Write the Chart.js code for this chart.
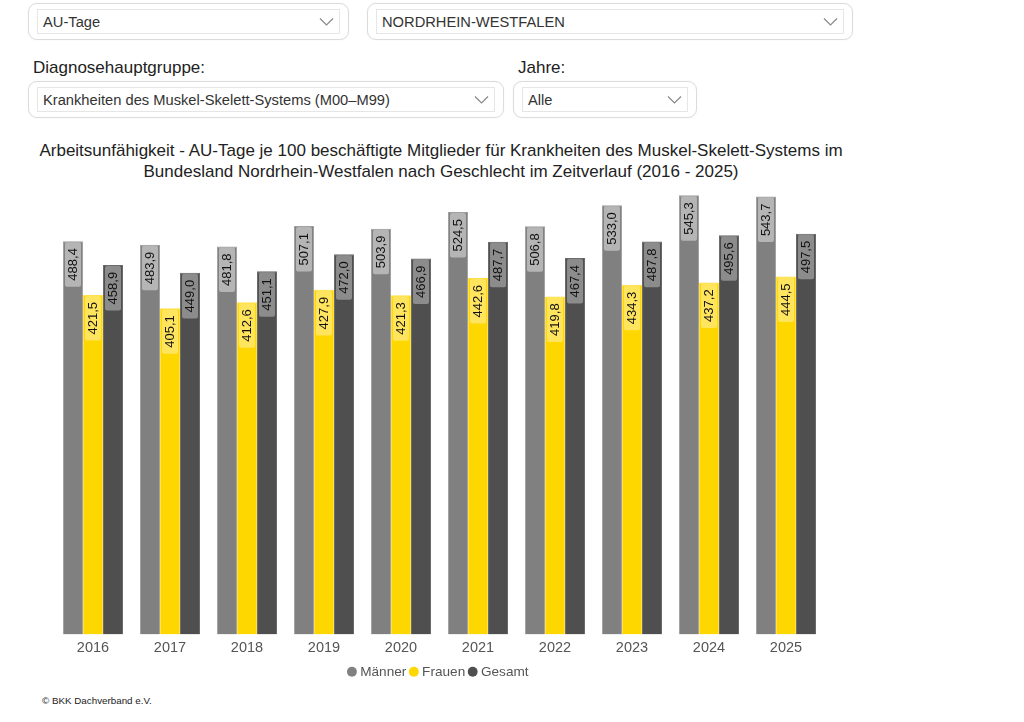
<!DOCTYPE html>
<html lang="de">
<head>
<meta charset="utf-8">
<script src="https://cdn.jsdelivr.net/npm/chart.js@4.4.1/dist/chart.umd.min.js"></script>
<style>
  html, body { margin: 0; padding: 0; background: #fff; }
  body { width: 1024px; height: 722px; position: relative; overflow: hidden;
         font-family: "Liberation Sans", Arial, sans-serif; color: #222; }
  .outer { position: absolute; border: 1px solid #dcdcdc; border-radius: 9px;
           box-shadow: 0 0 2px rgba(0,0,0,0.06); box-sizing: border-box; background: #fff; }
  .inner { position: absolute; left: 8px; right: 8px; top: 5px; bottom: 5px;
           border: 1px solid #e6e6e6; box-sizing: border-box; }
  .inner span { position: absolute; left: 5px; top: 50%; transform: translateY(-50%);
                font-size: 14.7px; color: #333; white-space: nowrap; }
  .inner svg { position: absolute; right: 5px; top: 50%; transform: translateY(-50%); }
  .lbl { position: absolute; font-size: 17px; color: #222; line-height: 20px; }
  #title { position: absolute; left: 0; top: 140px; width: 882px; text-align: center;
           font-size: 17px; line-height: 21px; color: #222; white-space: nowrap; }
  #chart { position: absolute; left: 0; top: 180px; }
  #copy { position: absolute; left: 42px; top: 695px; font-size: 9.8px; color: #222; }
</style>
</head>
<body>
<div class="outer" style="left:28px;top:3px;width:321px;height:37px;">
  <div class="inner"><span>AU-Tage</span>
    <svg width="15" height="9"><polyline points="1,1 7.5,7.5 14,1" fill="none" stroke="#888" stroke-width="1.2"/></svg></div>
</div>
<div class="outer" style="left:367px;top:3px;width:486px;height:37px;">
  <div class="inner"><span>NORDRHEIN-WESTFALEN</span>
    <svg width="15" height="9"><polyline points="1,1 7.5,7.5 14,1" fill="none" stroke="#888" stroke-width="1.2"/></svg></div>
</div>
<div class="lbl" style="left:33px;top:58px;">Diagnosehauptgruppe:</div>
<div class="lbl" style="left:518px;top:58px;">Jahre:</div>
<div class="outer" style="left:28px;top:81px;width:476px;height:37px;">
  <div class="inner"><span>Krankheiten des Muskel-Skelett-Systems (M00–M99)</span>
    <svg width="15" height="9"><polyline points="1,1 7.5,7.5 14,1" fill="none" stroke="#888" stroke-width="1.2"/></svg></div>
</div>
<div class="outer" style="left:513px;top:81px;width:184px;height:37px;">
  <div class="inner"><span>Alle</span>
    <svg width="15" height="9"><polyline points="1,1 7.5,7.5 14,1" fill="none" stroke="#888" stroke-width="1.2"/></svg></div>
</div>

<div id="title">Arbeitsunfähigkeit - AU-Tage je 100 beschäftigte Mitglieder für Krankheiten des Muskel-Skelett-Systems im<br>Bundesland Nordrhein-Westfalen nach Geschlecht im Zeitverlauf (2016 - 2025)</div>

<canvas id="chart" width="880" height="515"></canvas>

<div id="copy">© BKK Dachverband e.V.</div>

<script>
const years = ['2016', '2017', '2018', '2019', '2020', '2021', '2022', '2023', '2024', '2025'];
const maenner = [488.4, 483.9, 481.8, 507.1, 503.9, 524.5, 506.8, 533.0, 545.3, 543.7];
const frauen  = [421.5, 405.1, 412.6, 427.9, 421.3, 442.6, 419.8, 434.3, 437.2, 444.5];
const gesamt  = [458.9, 449.0, 451.1, 472.0, 466.9, 487.7, 467.4, 487.8, 495.6, 497.5];
const seriesNames = ['Männer', 'Frauen', 'Gesamt'];

const barColors   = ['#808080', '#ffd700', '#4f4f4f'];
const borderColors = ['#a0a0a0', '#ffe04a', '#6a6a6a'];
const labelColors = ['#b5b5b5', '#ffe45e', '#8c8c8c'];

Chart.defaults.font.family = '"Liberation Sans", Arial, sans-serif';

const fmt = v => v.toFixed(1).replace('.', ',');

const barLabels = {
  id: 'barLabels',
  afterDatasetsDraw(chart) {
    const ctx = chart.ctx;
    ctx.save();
    ctx.font = '13px "Liberation Sans", Arial, sans-serif';
    chart.data.datasets.forEach((ds, di) => {
      const meta = chart.getDatasetMeta(di);
      meta.data.forEach((bar, i) => {
        const txt = fmt(ds.data[i]);
        const tw = ctx.measureText(txt).width;
        const bw = bar.width - 4;
        const bh = tw + 12;
        const x0 = bar.x - bw / 2;
        const y0 = bar.y + 1;
        ctx.fillStyle = labelColors[di];
        ctx.beginPath();
        if (ctx.roundRect) ctx.roundRect(x0, y0, bw, bh, 2); else ctx.rect(x0, y0, bw, bh);
        ctx.fill();
        ctx.save();
        ctx.translate(bar.x, y0 + bh / 2);
        ctx.rotate(-Math.PI / 2);
        ctx.fillStyle = '#111';
        ctx.textAlign = 'center';
        ctx.textBaseline = 'middle';
        ctx.fillText(txt, 0, 0.5);
        ctx.restore();
      });
    });
    ctx.restore();
  }
};

// nudge the legend a little closer to the axis labels
const legendNudge = {
  id: 'legendNudge',
  afterLayout(chart) {
    if (chart.legend) {
      chart.legend.top -= 3;
      chart.legend.bottom -= 3;
      if (chart.legend.legendHitBoxes) chart.legend.legendHitBoxes.forEach(h => { h.top -= 3; });
    }
  }
};

const seriesData = [maenner, frauen, gesamt];

new Chart(document.getElementById('chart'), {
  type: 'bar',
  data: {
    labels: years,
    datasets: seriesData.map((d, i) => ({
      label: seriesNames[i],
      data: d,
      backgroundColor: barColors[i],
      borderColor: borderColors[i],
      borderWidth: 1,
      categoryPercentage: 0.78,
      barPercentage: 1.0
    }))
  },
  options: {
    responsive: false,
    animation: false,
    layout: { padding: { left: 54.5, right: 55.5, top: 11.5, bottom: 3.4 } },
    plugins: {
      title: { display: false },
      tooltip: { enabled: false },
      legend: {
        position: 'bottom',
        labels: {
          usePointStyle: true,
          pointStyle: 'circle',
          boxWidth: 3,
          boxHeight: 7,
          padding: 6,
          color: '#555',
          font: { size: 13.6 },
          generateLabels: (chart) => Chart.defaults.plugins.legend.labels.generateLabels(chart)
            .map(l => Object.assign(l, { lineWidth: 0, strokeStyle: l.fillStyle }))
        }
      }
    },
    scales: {
      x: {
        grid: { display: false, drawTicks: false },
        border: { display: false },
        ticks: { color: '#555', font: { size: 14.5 }, padding: 5 }
      },
      y: { display: false, min: 0, max: 550 }
    }
  },
  plugins: [barLabels, legendNudge]
});
</script>
</body>
</html>
